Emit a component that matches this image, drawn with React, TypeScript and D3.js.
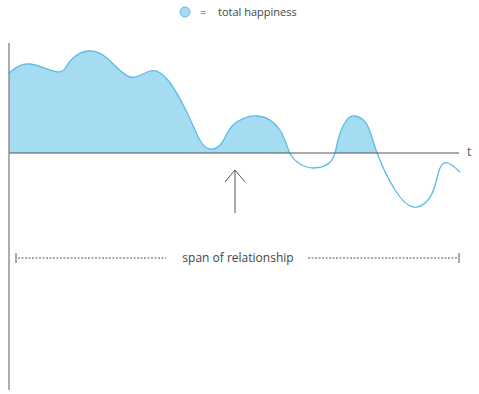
import React from "react";
import * as d3 from "d3";

const times = [0, 4.7, 10.9, 13.6, 17.6, 22.0, 26.9, 31.3, 35.3, 39.6, 42.4, 44.7, 47.3, 49.8, 55.3, 60.2, 62.4, 64.7, 67.6, 71.6, 73.1, 74.9, 76.9, 79.6, 81.8, 85.8, 89.8, 93.1, 94.7, 95.8, 97.6, 100.2];
const happiness = [8.0, 8.9, 8.1, 9.2, 10.2, 9.4, 7.6, 8.2, 7.3, 4.0, 1.3, 0.4, 1.0, 2.8, 3.7, 2.3, 0, -1.1, -1.5, -0.8, 1.3, 3.2, 3.7, 2.8, 0, -3.7, -5.4, -4.7, -3.2, -1.5, -1.0, -1.9];
const legendLabel = "total happiness";
const axisLabel = "t";
const spanLabel = "span of relationship";

const W = 479, H = 394;

export default function App() {
  const x = d3.scaleLinear().domain([0, 100]).range([9, 459]);
  const y = d3.scaleLinear().domain([0, 10]).range([153, 53]);
  const data = times.map((t, i) => ({ t, v: happiness[i] }));
  const curve = d3.curveNatural;
  const line = d3.line<any>().x(d => x(d.t)).y(d => y(d.v)).curve(curve);
  const area = d3.area<any>().x(d => x(d.t)).y0(y(0)).y1(d => y(d.v)).curve(curve);
  const font = "'Open Sans', sans-serif";
  const y0 = y(0);
  const spanY = 258;
  return (
    <svg width={W} height={H} style={{ position: "absolute", left: 0, top: 0 }}>
      <defs>
        <clipPath id="above">
          <rect x={0} y={0} width={W} height={y0} />
        </clipPath>
      </defs>
      <path d={area(data) || ""} fill="#a6dcf1" clipPath="url(#above)" />
      <path d={line(data) || ""} fill="none" stroke="#5bbce8" strokeWidth={1.3} />
      <line x1={x(0)} x2={x(100)} y1={y0} y2={y0} stroke="#555" strokeWidth={1} />
      <line x1={x(0)} x2={x(0)} y1={43} y2={390} stroke="#777" strokeWidth={1.2} />
      <text x={467} y={156} fontFamily={font} fontSize={12} fill="#555">{axisLabel}</text>
      {/* arrow */}
      <line x1={235} x2={235} y1={213} y2={170} stroke="#555" strokeWidth={1} />
      <polyline points="225,182 235,170 245,182" fill="none" stroke="#555" strokeWidth={1} />
      {/* legend */}
      <circle cx={185} cy={12} r={5} fill="#a6dcf1" stroke="#5bbce8" strokeWidth={1} />
      <text x={200} y={16} fontFamily={font} fontSize={11} fill="#444">=</text>
      <text x={218} y={16} fontFamily={font} fontSize={11} fill="#444">{legendLabel}</text>
      {/* span */}
      <line x1={16} x2={16} y1={spanY - 5} y2={spanY + 5} stroke="#555" strokeWidth={1} />
      <line x1={18} x2={166} y1={spanY} y2={spanY} stroke="#555" strokeWidth={1} strokeDasharray="2,1.5" />
      <text x={238} y={spanY + 4} textAnchor="middle" fontFamily={font} fontSize={12} fill="#444">{spanLabel}</text>
      <line x1={308} x2={458} y1={spanY} y2={spanY} stroke="#555" strokeWidth={1} strokeDasharray="2,1.5" />
      <line x1={459} x2={459} y1={spanY - 5} y2={spanY + 5} stroke="#555" strokeWidth={1} />
    </svg>
  );
}
